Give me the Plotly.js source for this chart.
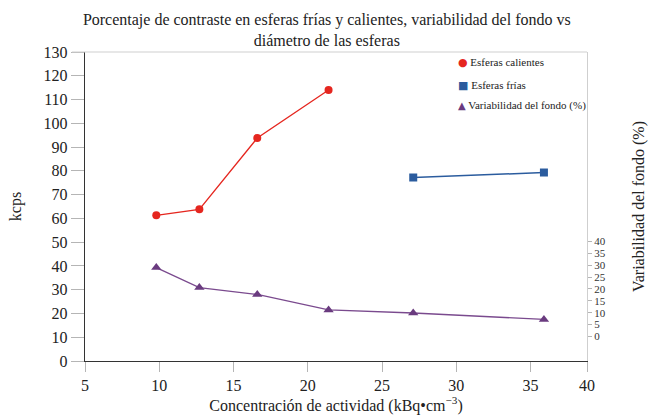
<!DOCTYPE html>
<html>
<head>
<meta charset="utf-8">
<script src="https://cdn.plot.ly/plotly-3.0.1.min.js"></script>
<style>html,body{margin:0;padding:0;background:#fff;}#chart{width:651px;height:416px;}</style>
</head>
<body>
<div id="chart"></div>
<script>
// Data
const hotX = [9.8, 12.7, 16.6, 21.4];
const hotY = [61.3, 63.8, 93.8, 114.0];
const coldX = [27.1, 35.9];
const coldY = [77.2, 79.3];
const bgX = [9.8, 12.7, 16.6, 21.4, 27.1, 35.9];
const bgY = [29.0, 20.6, 17.7, 11.2, 9.9, 7.2];

const xTickVals = [5, 10, 15, 20, 25, 30, 35, 38.8];
const xTickText = ['5', '10', '15', '20', '25', '30', '35', '40'];
const yTickVals = [0, 10, 20, 30, 40, 50, 60, 70, 80, 90, 100, 110, 120, 130];
const y2TickVals = [0, 5, 10, 15, 20, 25, 30, 35, 40];

const names = ['Esferas calientes', 'Esferas frías', 'Variabilidad del fondo (%)'];
const colors = ['#e5261f', '#2b5c9e', '#6a3b7f'];
const lineColors = ['#e5261f', '#2b5c9e', '#7a4a8e'];
const legendGlyphs = ['●', '■', '▲'];

const FONT = '"Liberation Serif", "Times New Roman", serif';
const X_RANGE = [5, 38.8];
const Y_RANGE = [0, 130];
const Y2_RANGE = [-10.3, 119.7];

const traces = [
  {x: hotX, y: hotY, mode: 'lines+markers', name: names[0], line: {color: lineColors[0], width: 1.3}, marker: {color: colors[0], size: 8, symbol: 'circle'}, showlegend: false},
  {x: coldX, y: coldY, mode: 'lines+markers', name: names[1], line: {color: lineColors[1], width: 1.5}, marker: {color: colors[1], size: 8, symbol: 'square'}, showlegend: false},
  {x: bgX, y: bgY, yaxis: 'y2', mode: 'lines+markers', name: names[2], line: {color: lineColors[2], width: 1.3}, marker: {color: colors[2], size: 9, symbol: 'triangle-up'}, showlegend: false}
];

const legendY = [0.9645, 0.893, 0.8255];
const annotations = names.map((n, i) => ({
  xref: 'paper', yref: 'paper', x: 0.739, y: legendY[i], xanchor: 'left', yanchor: 'middle',
  showarrow: false, align: 'left',
  text: '<span style="color:' + colors[i] + ';font-family:DejaVu Sans;font-size:' + (i === 2 ? 10 : 11) + 'px">' + legendGlyphs[i] + '</span> ' + n,
  font: {family: FONT, size: 11, color: '#222'}
}));

const layout = {
  width: 651, height: 416,
  margin: {l: 85, r: 64, t: 52, b: 54.5},
  paper_bgcolor: '#fff', plot_bgcolor: '#fff',
  font: {family: FONT, color: '#222', size: 16},
  showlegend: false,
  title: {
    text: 'Porcentaje de contraste en esferas frías y calientes, variabilidad del fondo vs<br>diámetro de las esferas',
    font: {family: FONT, size: 16, color: '#222'},
    xref: 'container', x: 0.502, xanchor: 'center',
    yref: 'container', y: 0.94, yanchor: 'top'
  },
  xaxis: {
    range: X_RANGE, tickmode: 'array', tickvals: xTickVals, ticktext: xTickText,
    ticks: 'outside', ticklen: 10, tickcolor: '#b5b5b5', tickwidth: 1,
    showline: true, linecolor: '#333', linewidth: 1.2,
    showgrid: false, zeroline: false,
    tickfont: {family: FONT, size: 16, color: '#222'},
    title: {text: 'Concentración de actividad (kBq•cm<sup>−3</sup>)', font: {family: FONT, size: 16, color: '#222'}, standoff: 4}
  },
  xaxis2: {
    overlaying: 'x', side: 'bottom', range: X_RANGE, tickmode: 'array', tickvals: xTickVals,
    ticks: 'inside', ticklen: 3, tickcolor: '#b5b5b5', showticklabels: false,
    showline: false, showgrid: false, zeroline: false
  },
  yaxis: {
    range: Y_RANGE, tickmode: 'array', tickvals: yTickVals,
    ticks: 'outside', ticklen: 13, tickcolor: '#b5b5b5', tickwidth: 1,
    showline: true, linecolor: '#333', linewidth: 1.2,
    showgrid: false, zeroline: false,
    tickfont: {family: FONT, size: 16, color: '#222'},
    title: {text: 'kcps', font: {family: FONT, size: 16, color: '#222'}, standoff: 18}
  },
  yaxis3: {
    overlaying: 'y', side: 'left', range: Y_RANGE, tickmode: 'array', tickvals: yTickVals,
    ticks: 'inside', ticklen: 8, tickcolor: '#b5b5b5', showticklabels: false,
    showline: false, showgrid: false, zeroline: false
  },
  yaxis2: {
    overlaying: 'y', side: 'right', range: Y2_RANGE, tickmode: 'array', tickvals: y2TickVals,
    ticks: 'outside', ticklen: 4, tickcolor: '#b5b5b5', tickwidth: 1,
    showline: true, linecolor: '#cfcfcf', linewidth: 1,
    showgrid: false, zeroline: false,
    tickfont: {family: FONT, size: 11, color: '#333'},
    title: {text: 'Variabilidad del fondo (%)', font: {family: FONT, size: 16, color: '#222'}, standoff: 28}
  },
  yaxis4: {
    overlaying: 'y', side: 'right', range: Y2_RANGE, tickmode: 'array', tickvals: y2TickVals,
    ticks: 'inside', ticklen: 6, tickcolor: '#b5b5b5', showticklabels: false,
    showline: false, showgrid: false, zeroline: false
  },
  shapes: [
    {type: 'line', xref: 'paper', yref: 'paper', x0: -0.026, x1: 1, y0: 1, y1: 1, line: {color: '#cfcfcf', width: 1}}
  ],
  annotations: annotations
};

Plotly.newPlot('chart', traces, layout, {staticPlot: true, displayModeBar: false});
</script>
</body>
</html>
